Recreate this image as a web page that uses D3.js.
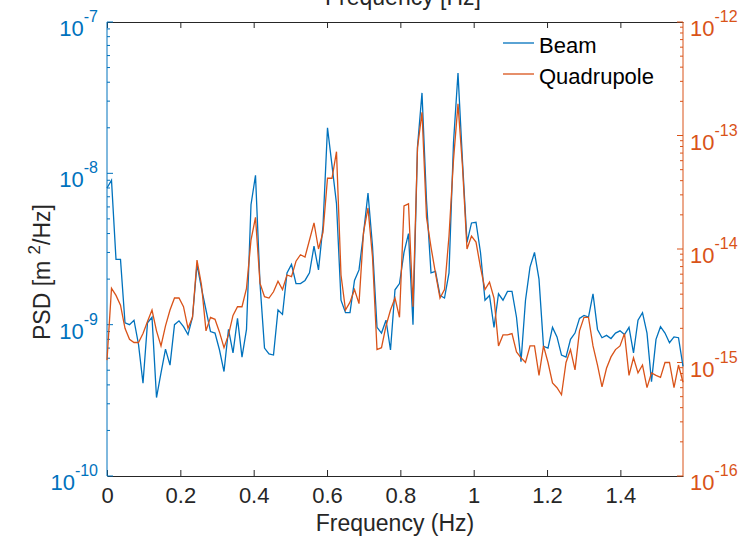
<!DOCTYPE html>
<html>
<head>
<meta charset="utf-8">
<script src="https://cdn.jsdelivr.net/npm/d3@7"></script>
<style>
  body { margin: 0; background: #fff; }
  svg { font-family: "Liberation Sans", Arial, sans-serif; }
</style>
</head>
<body>
<div id="chart"></div>
<script>
// FFT bins from 0 to pi/2 Hz, 129 of them
const nBins = 129;
const fMax = Math.PI / 2;

const beam = [8.0e-9, 9.0e-9, 2.7e-9, 2.7e-9, 1.03e-9, 1.0e-9, 1.07e-9, 7.4e-10, 4.1e-10, 1.03e-9,
  1.12e-9, 3.3e-10, 4.8e-10, 6.9e-10, 5.4e-10, 1.0e-9, 1.06e-9, 9.7e-10, 8.6e-10, 1.12e-9,
  2.5e-9, 1.74e-9, 1.25e-9, 9.0e-10, 8.8e-10, 6.8e-10, 4.9e-10, 9.3e-10, 6.5e-10, 1.1e-9,
  6.1e-10, 9.3e-10, 6.2e-9, 9.7e-9, 1.87e-9, 7.0e-10, 6.4e-10, 6.3e-10, 1.25e-9, 1.17e-9,
  2.2e-9, 2.5e-9, 1.87e-9, 1.87e-9, 1.96e-9, 2.2e-9, 3.3e-9, 2.3e-9, 4.5e-9, 2.0e-8,
  1.13e-8, 6.3e-9, 1.45e-9, 1.2e-9, 1.2e-9, 1.96e-9, 2.3e-9, 4.0e-9, 7.4e-9, 3.3e-9,
  9.6e-10, 8.8e-10, 1.07e-9, 6.8e-10, 1.7e-9, 1.87e-9, 3.0e-9, 4.0e-9, 1.0e-9, 1.5e-8,
  3.4e-8, 6.6e-9, 2.2e-9, 2.25e-9, 1.56e-9, 1.5e-9, 2.2e-9, 1.6e-8, 4.6e-8, 1.2e-8,
  3.5e-9, 4.7e-9, 4.75e-9, 3.0e-9, 1.45e-9, 1.56e-9, 9.6e-10, 1.6e-9, 1.45e-9, 1.66e-9,
  1.66e-9, 1.12e-9, 5.7e-10, 1.45e-9, 2.4e-9, 3.0e-9, 2.0e-9, 7.2e-10, 7.0e-10, 9.6e-10,
  8.3e-10, 6.3e-10, 6.1e-10, 8.0e-10, 8.8e-10, 1.1e-9, 1.15e-9, 1.12e-9, 1.6e-9, 9.3e-10,
  8.2e-10, 8.5e-10, 8.1e-10, 8.8e-10, 9.1e-10, 8.6e-10, 9.6e-10, 6.5e-10, 1.07e-9, 1.2e-9,
  8.8e-10, 4.2e-10, 8.0e-10, 9.7e-10, 8.8e-10, 7.6e-10, 8.3e-10, 8.2e-10, 5.3e-10];

const quad = [1.05e-15, 4.5e-15, 3.9e-15, 3.2e-15, 2.0e-15, 1.6e-15, 1.5e-15, 1.5e-15, 1.8e-15, 2.3e-15,
  2.9e-15, 1.9e-15, 1.4e-15, 2.1e-15, 2.9e-15, 3.7e-15, 3.7e-15, 3.1e-15, 2.0e-15, 2.5e-15,
  8.0e-15, 4.8e-15, 1.9e-15, 2.5e-15, 2.4e-15, 1.85e-15, 1.35e-15, 1.75e-15, 2.6e-15, 3.1e-15,
  3.1e-15, 4.5e-15, 1.2e-14, 1.9e-14, 5.0e-15, 3.8e-15, 3.7e-15, 4.2e-15, 5.2e-15, 4.4e-15,
  5.9e-15, 5.7e-15, 7.8e-15, 8.9e-15, 8.5e-15, 1.2e-14, 1.7e-14, 1.0e-14, 1.4e-14, 4.2e-14,
  4.2e-14, 7.2e-14, 5.9e-15, 2.9e-15, 3.4e-15, 4.4e-15, 3.3e-15, 1.4e-14, 2.3e-14, 8.5e-15,
  1.3e-15, 1.35e-15, 2.1e-15, 2.9e-15, 3.7e-15, 2.5e-15, 2.4e-14, 2.5e-14, 3.1e-15, 7.8e-14,
  1.6e-13, 1.9e-14, 1.04e-14, 6.1e-15, 3.7e-15, 4.4e-15, 1.3e-14, 6.1e-14, 1.9e-13, 5.3e-14,
  1.0e-14, 1.3e-14, 1.15e-14, 6.9e-15, 4.4e-15, 5.1e-15, 3.7e-15, 1.4e-15, 1.75e-15, 1.75e-15,
  1.8e-15, 1.24e-15, 1.1e-15, 1.0e-15, 1.4e-15, 1.4e-15, 7.7e-16, 1.4e-15, 1.0e-15, 6.6e-16,
  6.0e-16, 5.2e-16, 1.0e-15, 1.3e-15, 8.6e-16, 1.9e-15, 2.5e-15, 2.5e-15, 1.4e-15, 9.5e-16,
  6.1e-16, 8.9e-16, 1.12e-15, 1.3e-15, 1.4e-15, 1.8e-15, 7.7e-16, 1.1e-15, 8.1e-16, 9.5e-16,
  6.0e-16, 8.1e-16, 7.7e-16, 7.4e-16, 1.0e-15, 1.0e-15, 6.0e-16, 9.5e-16, 6.7e-16];

const xTicks = [0, 0.2, 0.4, 0.6, 0.8, 1, 1.2, 1.4];
const leftDecades = [-10, -9, -8, -7];
const rightDecades = [-16, -15, -14, -13, -12];
const seriesNames = ['Beam', 'Quadrupole'];

const blue = '#0072BD';
const orange = '#D95319';
const axisGray = '#262626';

const width = 749;
const height = 539;
const margin = { top: 22, right: 66, bottom: 63, left: 107 };

function drawChart() {
  const svg = d3.select('#chart')
    .append('svg')
    .attr('width', width)
    .attr('height', height);

  const x = d3.scaleLinear()
    .domain([0, fMax])
    .range([margin.left, width - margin.right]);
  const yL = d3.scaleLog()
    .domain([1e-10, 1e-7])
    .range([height - margin.bottom, margin.top]);
  const yR = d3.scaleLog()
    .domain([1e-16, 1e-12])
    .range([height - margin.bottom, margin.top]);

  const freq = d3.range(nBins).map((i) => i * fMax / (nBins - 1));

  // bottom + top axes, ticks point inward
  svg.append('g')
    .attr('transform', `translate(0, ${height - margin.bottom})`)
    .call(d3.axisBottom(x).tickValues(xTicks).tickSize(-6).tickSizeOuter(0).tickPadding(11)
      .tickFormat(d3.format('~g')))
    .call((g) => g.selectAll('path, line').attr('stroke', axisGray))
    .call((g) => g.selectAll('text').attr('fill', axisGray).style('font-size', '22px').attr('dy', '0.74em'));

  svg.append('g')
    .attr('transform', `translate(0, ${margin.top})`)
    .call(d3.axisTop(x).tickValues(xTicks).tickSize(-6).tickSizeOuter(0).tickFormat(''))
    .call((g) => g.selectAll('path, line').attr('stroke', axisGray));

  drawLogAxis(svg, yL, margin.left, 1, blue, leftDecades);
  drawLogAxis(svg, yR, width - margin.right, -1, orange, rightDecades);

  const line = (yScale) => d3.line()
    .x((d, i) => x(freq[i]))
    .y((d) => yScale(d));

  svg.append('path')
    .datum(beam)
    .attr('fill', 'none')
    .attr('stroke', blue)
    .attr('stroke-width', 1.3)
    .attr('d', line(yL));

  svg.append('path')
    .datum(quad)
    .attr('fill', 'none')
    .attr('stroke', orange)
    .attr('stroke-width', 1.3)
    .attr('d', line(yR));

  // legend, no box
  const legend = svg.append('g');
  [blue, orange].forEach((c, i) => {
    const ly = 43 + i * 31;
    legend.append('line')
      .attr('x1', 503).attr('x2', 534)
      .attr('y1', ly).attr('y2', ly)
      .attr('stroke', c).attr('stroke-width', 1.3);
    legend.append('text')
      .attr('x', 539).attr('y', ly + 10)
      .style('font-size', '22px')
      .attr('fill', '#000')
      .text(seriesNames[i]);
  });

  // axis labels
  svg.append('text')
    .attr('x', (margin.left + width - margin.right) / 2)
    .attr('y', 531)
    .attr('text-anchor', 'middle')
    .style('font-size', '23px')
    .attr('fill', axisGray)
    .text('Frequency (Hz)');

  // title of the subplot above, mostly clipped off
  svg.append('text')
    .attr('x', 403)
    .attr('y', 5)
    .attr('text-anchor', 'middle')
    .style('font-size', '23px')
    .attr('fill', axisGray)
    .text('Frequency [Hz]');

  const ylab = svg.append('text')
    .attr('transform', 'translate(50, 272) rotate(-90)')
    .attr('text-anchor', 'middle')
    .style('font-size', '23px')
    .attr('fill', axisGray);
  ylab.append('tspan').text('PSD [m ');
  ylab.append('tspan').attr('dy', -10).style('font-size', '17px').text('2');
  ylab.append('tspan').attr('dy', 10).text('/Hz]');
}

function drawLogAxis(svg, y, x0, dir, color, decades) {
  const g = svg.append('g');
  g.append('line')
    .attr('x1', x0).attr('x2', x0)
    .attr('y1', y.range()[0]).attr('y2', y.range()[1])
    .attr('stroke', color);

  g.selectAll('.tick')
    .data(y.ticks())
    .join('line')
    .attr('x1', x0)
    .attr('x2', (d) => x0 + dir * (isDecade(d) ? 6 : 3))
    .attr('y1', (d) => y(d))
    .attr('y2', (d) => y(d))
    .attr('stroke', color);

  const labels = g.selectAll('.lab')
    .data(decades)
    .join('text')
    .attr('x', dir > 0 ? x0 - 9 : x0 + 7)
    .attr('y', (d) => y(Math.pow(10, d)) + 14)
    .attr('text-anchor', dir > 0 ? 'end' : 'start')
    .attr('fill', color)
    .style('font-size', '22px');
  labels.append('tspan').text('10');
  labels.append('tspan')
    .attr('dy', -14)
    .style('font-size', '16px')
    .text((d) => d);
}

function isDecade(v) {
  const e = Math.log10(v);
  return Math.abs(e - Math.round(e)) < 1e-6;
}

drawChart();
</script>
</body>
</html>
